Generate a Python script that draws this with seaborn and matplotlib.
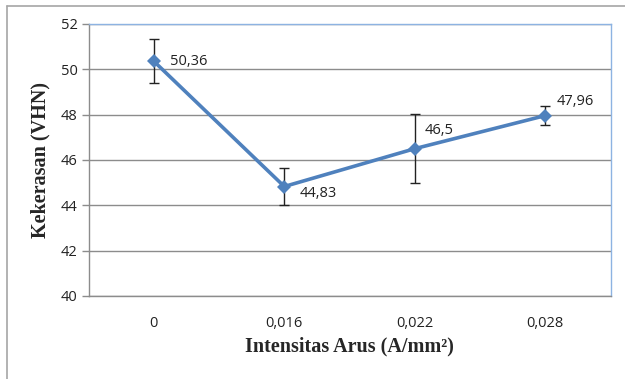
import matplotlib
matplotlib.use("Agg")
import matplotlib.pyplot as plt
import seaborn as sns
import numpy as np
import pandas as pd
from matplotlib.lines import Line2D

# data
kategori = ["0", "0,016", "0,022", "0,028"]
kekerasan = [50.36, 44.83, 46.5, 47.96]
galat = [0.97, 0.82, 1.52, 0.40]
label_data = ["50,36", "44,83", "46,5", "47,96"]
label_offset = [(16, 0), (15, -7), (10, 18), (11, 14)]
y_ticks = [40, 42, 44, 46, 48, 50, 52]

sns.set_style("white")
plt.rcParams["font.family"] = ["Open Sans", "DejaVu Sans"]

df = pd.DataFrame({"Intensitas": kategori, "Kekerasan": kekerasan})

fig = plt.figure(figsize=(6.25, 3.79), dpi=100)
ax = fig.add_axes([0.1416, 0.219, 0.977 - 0.1416, 0.9367 - 0.219])

pos = np.arange(len(kategori))
ax.errorbar(pos, kekerasan, yerr=galat, fmt="none", ecolor="#222222",
            elinewidth=1, capsize=3.5, capthick=1, zorder=3)
sns.lineplot(data=df, x="Intensitas", y="Kekerasan", ax=ax, color="#4F81BD",
             linewidth=2.6, marker="D", markersize=7, markeredgewidth=0,
             sort=False, zorder=4)

for i, (lbl, off) in enumerate(zip(label_data, label_offset)):
    ax.annotate(lbl, (pos[i], kekerasan[i]), xytext=off, textcoords="offset pixels",
                ha="left", va="center", fontsize=10.5, color="#222222")

ax.set_xlim(-0.5, len(kategori) - 0.5)
ax.set_ylim(40, 52)
ax.set_yticks(y_ticks)
ax.set_yticklabels([str(t) for t in y_ticks])
ax.grid(axis="y", color="#8C8C8C", linewidth=1)
ax.set_axisbelow(True)

for s in ["left", "bottom"]:
    ax.spines[s].set_color("#8C8C8C")
    ax.spines[s].set_linewidth(1)
for s in ["top", "right"]:
    ax.spines[s].set_color("#8DB3E2")
    ax.spines[s].set_linewidth(1)

ax.tick_params(axis="y", left=True, length=5, width=1, color="#8C8C8C",
               labelsize=10.5, pad=3, labelcolor="#222222")
ax.tick_params(axis="x", bottom=False, labelsize=10.5, pad=11, labelcolor="#222222")

ax.set_xlabel("Intensitas Arus (A/mm²)", family=["Liberation Serif"],
              fontweight="bold", fontsize=14.5, labelpad=4)
ax.set_ylabel("Kekerasan (VHN)", family=["Liberation Serif"],
              fontweight="bold", fontsize=14.5, labelpad=7)

# outer chart frame (left and top edges visible)
fig.add_artist(Line2D([7 / 625, 7 / 625], [0, 1 - 6 / 379], color="#A6A6A6", linewidth=1.2))
fig.add_artist(Line2D([7 / 625, 1], [1 - 6 / 379, 1 - 6 / 379], color="#A6A6A6", linewidth=1.2))

fig.savefig("out.png", dpi=100)
plt.close(fig)
